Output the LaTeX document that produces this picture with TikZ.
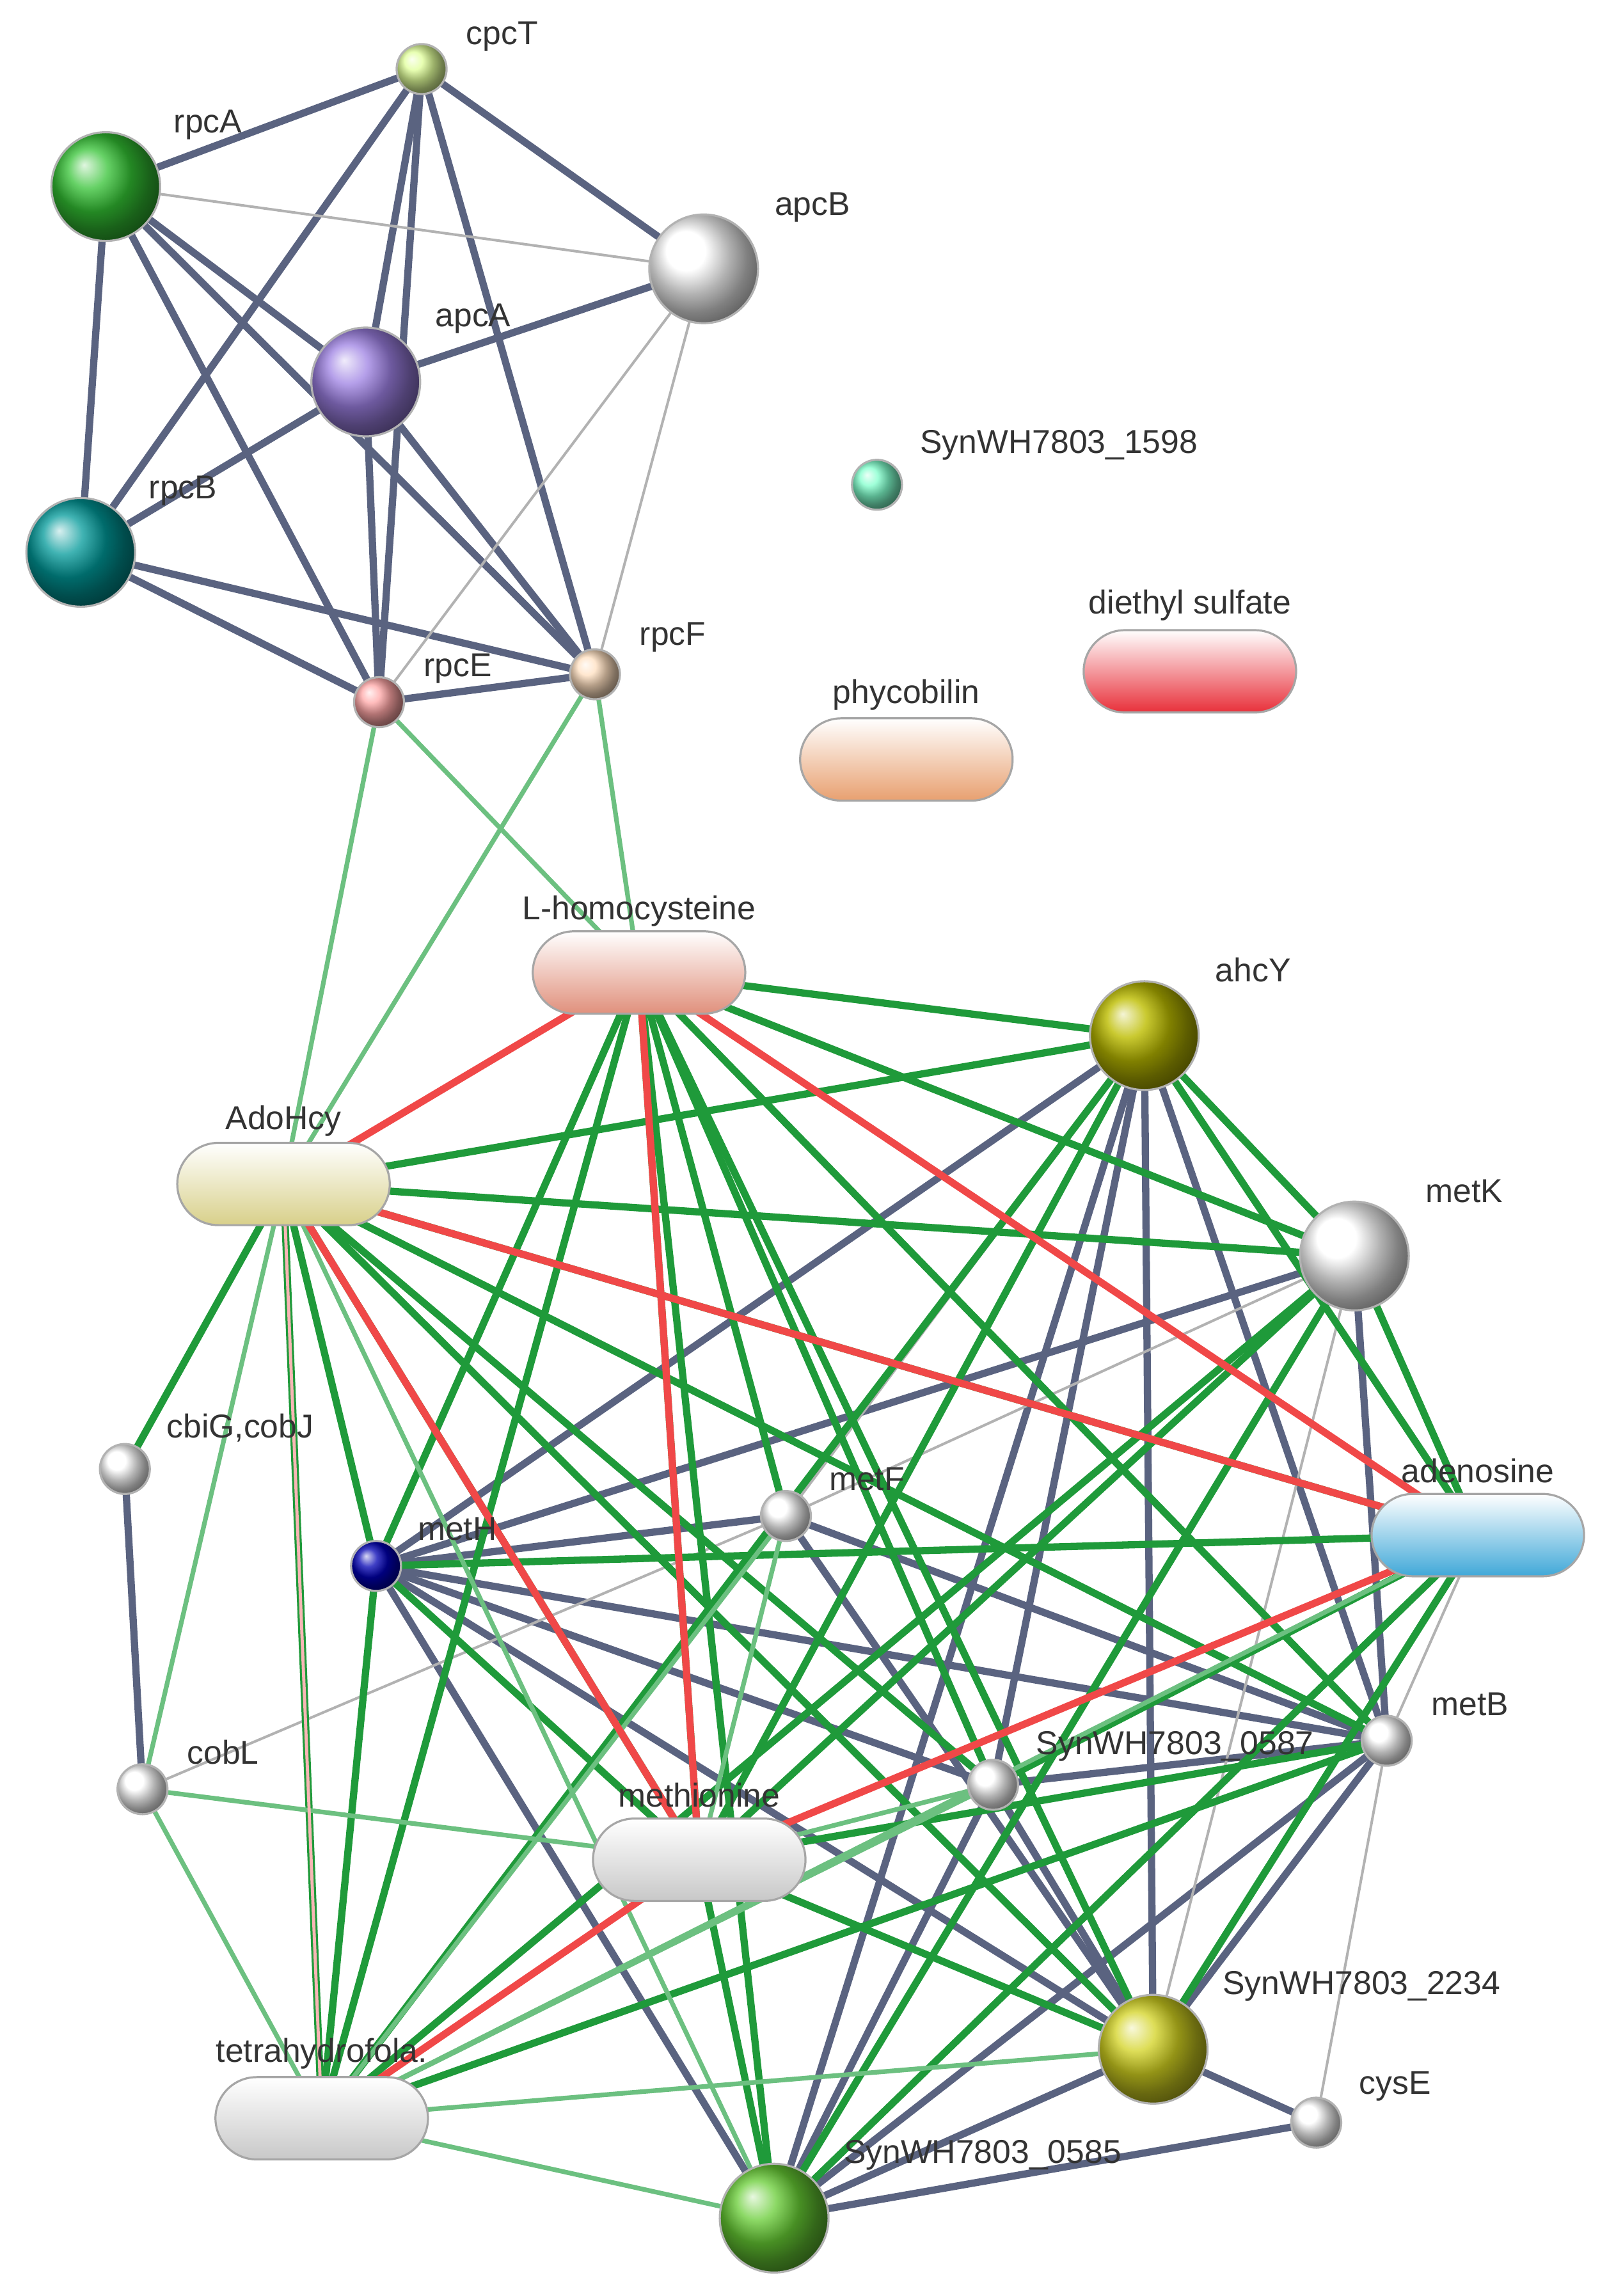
\documentclass[tikz,border=0pt]{standalone}
\usepackage{fontspec}
\setmainfont{Liberation Sans}
\usetikzlibrary{shapes.misc}
\definecolor{dk}{HTML}{5A6380}
\definecolor{gn}{HTML}{1F9A3A}
\definecolor{lg}{HTML}{6CC080}
\definecolor{rd}{HTML}{F04848}
\definecolor{cRed}{HTML}{E8303A}
\definecolor{cOra}{HTML}{E8A070}
\definecolor{cRos}{HTML}{E0907C}
\definecolor{cYel}{HTML}{D8D08A}
\definecolor{cBlu}{HTML}{40A8D8}
\definecolor{cWhi}{HTML}{C8C8C8}
\tikzset{
  lbl/.style={font=\fontsize{6.4}{7}\selectfont, text=black!80},
  prot/.style={circle, minimum size=#1, inner sep=0pt, draw=black!30, thin},
  big/.style={prot=0.74cm},
  sml/.style={prot=0.34cm, ball color=white},
  pill/.style={rounded rectangle, minimum width=1.68cm, minimum height=0.56cm, draw=black!35, thin, top color=white, middle color=#1!70, bottom color=#1},
  dkE/.style={dk, line width=1.4pt},
  ltE/.style={black!30, line width=0.5pt},
  gnE/.style={gn, line width=1.4pt},
  lgE/.style={lg, line width=0.9pt},
  rdE/.style={rd, line width=1.4pt}
}
\begin{document}
\begin{tikzpicture}[x=0.01cm,y=-0.01cm]
\useasboundingbox (0,0) rectangle (1089,1563);

% Positions
\foreach \n/\x/\y in {cpcT/287/47,rpcA/72/127,apcB/479/183,apcA/249/260,rpcB/55/376,s1598/597/330,rpcE/258/478,rpcF/405/459,
  dsulf/810/457,phyco/617/517,lhcy/435/662,ahcY/779/705,adohcy/193/806,metK/922/855,cbiG/85/1000,metF/535/1032,metH/256/1066,
  adeno/1006/1045,metB/944/1185,cobL/97/1218,s0587/676/1215,methio/476/1266,s2234/785/1395,cysE/896/1445,thf/219/1442,s0585/527/1510}
  \coordinate (\n) at (\x,\y);

% Edges
\foreach \a/\b in {cpcT/rpcA,cpcT/apcB,cpcT/apcA,cpcT/rpcE,cpcT/rpcF,cpcT/rpcB,rpcA/apcA,rpcA/rpcB,rpcA/rpcE,rpcA/rpcF,apcA/apcB,apcA/rpcB,apcA/rpcE,apcA/rpcF,rpcB/rpcE,rpcB/rpcF,rpcE/rpcF,
  ahcY/metH,ahcY/metB,ahcY/s2234,ahcY/s0585,ahcY/s0587,metK/metH,metK/metB,metH/metF,metH/metB,metH/s0587,metH/s2234,metH/s0585,metF/metB,metF/s2234,cbiG/cobL,metB/s0587,metB/s0585,metB/s2234,s0587/s2234,s0587/s0585,s2234/cysE,s2234/s0585,cysE/s0585}
  \draw[dkE] (\a) -- (\b);
\foreach \a/\b in {rpcA/apcB,apcB/rpcE,apcB/rpcF,ahcY/metF,metF/cobL,metK/s2234,adeno/metB,metB/cysE,metK/metF}
  \draw[ltE] (\a) -- (\b);
\foreach \a/\b in {lhcy/ahcY,lhcy/metK,lhcy/metH,lhcy/metB,lhcy/s0587,lhcy/s2234,lhcy/s0585,lhcy/methio,lhcy/thf,lhcy/metF,
  adohcy/ahcY,adohcy/metK,adohcy/adeno,adohcy/metH,adohcy/cbiG,adohcy/thf,adohcy/methio,adohcy/s0587,adohcy/metB,adohcy/s2234,
  ahcY/metK,ahcY/adeno,ahcY/methio,ahcY/thf,metK/methio,metK/s0585,metK/thf,metK/adeno,metH/adeno,metH/thf,metH/methio,
  adeno/s0587,adeno/s2234,methio/metB,methio/s0585,methio/s2234,metB/thf,adeno/s0585}
  \draw[gnE] (\a) -- (\b);
\foreach \a/\b in {rpcE/adohcy,rpcF/adohcy,rpcE/lhcy,rpcF/lhcy,adohcy/s0585,adohcy/cobL,metF/thf,metF/methio,cobL/methio,cobL/thf,s0587/methio,thf/s2234,thf/s0585,thf/adeno,s0587/thf}
  \draw[lgE] (\a) -- (\b);
\foreach \a/\b in {lhcy/adohcy,lhcy/methio,lhcy/adeno,adohcy/methio,adohcy/adeno,adeno/methio,methio/thf}
  \draw[rdE] (\a) -- (\b);
\draw[rd!40, line width=0.6pt] (adohcy) -- (thf);

% Nodes
\node[sml, ball color=green!30!yellow!40] at (cpcT) {};
\node[big, ball color=green!70!black!80] at (rpcA) {};
\node[big, ball color=white] at (apcB) {};
\node[big, ball color=violet!45!blue!50] at (apcA) {};
\node[big, ball color=teal!80!cyan] at (rpcB) {};
\node[sml, ball color=green!40!cyan!50] at (s1598) {};
\node[sml, ball color=red!35] at (rpcE) {};
\node[sml, ball color=orange!25] at (rpcF) {};
\node[pill=cRed] at (dsulf) {};
\node[pill=cOra] at (phyco) {};
\node[pill=cRos] at (lhcy) {};
\node[big, ball color=olive!70!yellow!80] at (ahcY) {};
\node[pill=cYel] at (adohcy) {};
\node[big, ball color=white] at (metK) {};
\node[sml] at (cbiG) {};
\node[sml] at (metF) {};
\node[sml, ball color=blue!70!black] at (metH) {};
\node[pill=cBlu] at (adeno) {};
\node[sml] at (metB) {};
\node[sml] at (cobL) {};
\node[sml] at (s0587) {};
\node[pill=cWhi] at (methio) {};
\node[big, ball color=yellow!50!olive!70] at (s2234) {};
\node[sml] at (cysE) {};
\node[pill=cWhi] at (thf) {};
\node[big, ball color=green!50!olive!80] at (s0585) {};

% Labels
\node[lbl, anchor=west] at (305,25) {cpcT};
\node[lbl, anchor=west] at (106,85) {rpcA};
\node[lbl, anchor=west] at (515,141) {apcB};
\node[lbl, anchor=west] at (284,217) {apcA};
\node[lbl, anchor=west] at (89,334) {rpcB};
\node[lbl, anchor=west] at (614,303) {SynWH7803\_1598};
\node[lbl, anchor=west] at (276,455) {rpcE};
\node[lbl, anchor=west] at (423,434) {rpcF};
\node[lbl] at (810,412) {diethyl sulfate};
\node[lbl] at (617,473) {phycobilin};
\node[lbl] at (435,620) {L-homocysteine};
\node[lbl, anchor=west] at (815,660) {ahcY};
\node[lbl] at (193,763) {AdoHcy};
\node[lbl, anchor=west] at (958,811) {metK};
\node[lbl, anchor=west] at (101,972) {cbiG,cobJ};
\node[lbl, anchor=west] at (552,1007) {metF};
\node[lbl, anchor=west] at (272,1041) {metH};
\node[lbl] at (1006,1001) {adenosine};
\node[lbl, anchor=west] at (962,1160) {metB};
\node[lbl, anchor=west] at (115,1193) {cobL};
\node[lbl, anchor=west] at (693,1189) {SynWH7803\_0587};
\node[lbl] at (476,1222) {methionine};
\node[lbl, anchor=west] at (820,1352) {SynWH7803\_2234};
\node[lbl, anchor=west] at (913,1420) {cysE};
\node[lbl] at (219,1398) {tetrahydrofola.};
\node[lbl, anchor=west] at (562,1467) {SynWH7803\_0585};
\end{tikzpicture}
\end{document}
